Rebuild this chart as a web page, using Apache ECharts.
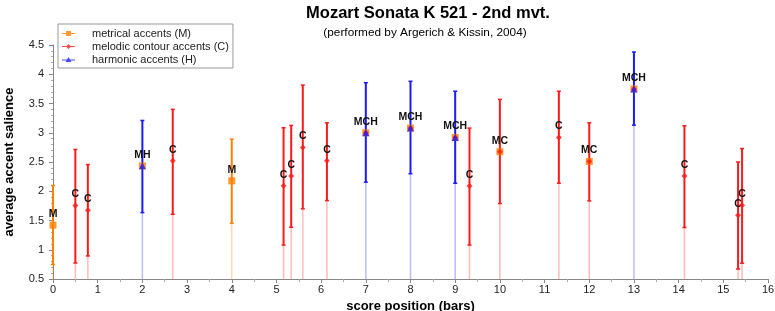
<!DOCTYPE html>
<html>
<head>
<meta charset="utf-8">
<script src="https://cdn.jsdelivr.net/npm/echarts@6/dist/echarts.min.js"></script>
<style>
  html, body { margin: 0; padding: 0; background: #fff; }
  #chart { width: 775px; height: 311px; }
</style>
</head>
<body>
<div id="chart"></div>
<script>
// score position (bars) of each accent
const positions = [0, 0.5, 0.78, 2, 2.68, 4, 5.16, 5.33, 5.59, 6.13, 7, 8, 9, 9.32, 10, 11.32, 12, 13, 14.13, 15.33, 15.42];
// average accent salience and its spread
const means = [1.42, 1.755, 1.675, 2.434, 2.52, 2.178, 2.092, 2.26, 2.75, 2.52, 3.0, 3.08, 2.92, 2.09, 2.675, 2.92, 2.51, 3.75, 2.26, 1.59, 1.76];
const lows  = [0.75, 0.774, 0.894, 1.635, 1.606, 1.452, 1.08, 1.385, 1.70, 1.84, 2.155, 2.30, 2.137, 1.08, 1.79, 2.137, 1.835, 3.13, 1.38, 0.67, 0.77];
const highs = [2.098, 2.714, 2.457, 3.21, 3.40, 2.89, 3.085, 3.125, 3.815, 3.17, 3.855, 3.88, 3.71, 3.08, 3.57, 3.71, 3.17, 4.38, 3.12, 2.5, 2.73];
// accent types present at each position
const accentLabels = ['M', 'C', 'C', 'MH', 'C', 'M', 'C', 'C', 'C', 'C', 'MCH', 'MCH', 'MCH', 'C', 'MC', 'C', 'MC', 'MCH', 'C', 'C', 'C'];

const seriesNames = ['metrical accents (M)', 'melodic contour accents (C)', 'harmonic accents (H)'];
const colors = ['#ff8000', '#ff1a1a', '#1a1aff'];
const FONT = '"Liberation Sans", Arial, sans-serif';

function pointsWith(letter) {
  let pts = [];
  positions.forEach((x, i) => {
    if (accentLabels[i].indexOf(letter) >= 0) pts.push([x, means[i]]);
  });
  return pts;
}

// error bar colour follows the "highest" accent type
let barData = positions.map((x, i) => {
  let lab = accentLabels[i];
  let t = lab.indexOf('H') >= 0 ? 2 : (lab.indexOf('C') >= 0 ? 1 : 0);
  return [x, lows[i], highs[i], means[i], t];
});

function renderBar(params, api) {
  let x = api.value(0);
  let base = api.coord([x, 0.5]);
  let lo = api.coord([x, api.value(1)]);
  let hi = api.coord([x, api.value(2)]);
  let m = api.coord([x, api.value(3)]);
  let color = colors[api.value(4)];
  let cap = 2;
  return {
    type: 'group',
    children: [
      { type: 'line', shape: { x1: base[0], y1: base[1], x2: lo[0], y2: lo[1] },
        style: { stroke: color, lineWidth: 1.5, opacity: 0.3 } },
      { type: 'line', shape: { x1: lo[0], y1: lo[1], x2: hi[0], y2: hi[1] },
        style: { stroke: color, lineWidth: 2 } },
      { type: 'line', shape: { x1: lo[0] - cap, y1: lo[1], x2: lo[0] + cap, y2: lo[1] },
        style: { stroke: color, lineWidth: 1.5 } },
      { type: 'line', shape: { x1: hi[0] - cap, y1: hi[1], x2: hi[0] + cap, y2: hi[1] },
        style: { stroke: color, lineWidth: 1.5 } },
      { type: 'text', x: m[0], y: m[1] - 11,
        style: { text: accentLabels[params.dataIndex], textAlign: 'center', textVerticalAlign: 'middle',
                 font: 'bold 10.5px ' + FONT, fill: '#111' } }
    ]
  };
}

const icons = [
  'path://M0,2h13v1h-13z M4,0h5v5h-5z',
  'path://M0,2h13v1h-13z M6.5,0L9,2.5L6.5,5L4,2.5z',
  'path://M0,2.5h13v1h-13z M6.5,0L9.5,5L3.5,5z'
];

let chart = echarts.init(document.getElementById('chart'));
chart.setOption({
  animation: false,
  textStyle: { fontFamily: FONT },
  graphic: [
    { type: 'text', x: 428, y: 13,
      style: { text: 'Mozart Sonata K 521 - 2nd mvt.', textAlign: 'center', textVerticalAlign: 'middle',
               font: 'bold 16.5px ' + FONT, fill: '#000' } },
    { type: 'text', x: 425, y: 33,
      style: { text: '(performed by Argerich & Kissin, 2004)', textAlign: 'center', textVerticalAlign: 'middle',
               font: '11.8px ' + FONT, fill: '#000' } }
  ],
  legend: {
    orient: 'vertical',
    left: 58,
    top: 24,
    padding: [3, 4, 2, 4],
    itemGap: 0,
    itemWidth: 13,
    itemHeight: 5,
    borderColor: '#999',
    borderWidth: 1,
    textStyle: { fontSize: 11, color: '#222', lineHeight: 13, padding: [0, 0, 0, 12] },
    data: seriesNames.map((n, i) => ({ name: n, icon: icons[i] }))
  },
  grid: { left: 53, right: 7, top: 45, bottom: 32, outerBoundsMode: 'none' },
  xAxis: {
    type: 'value',
    min: 0, max: 16, interval: 1,
    name: 'score position (bars)',
    nameLocation: 'middle',
    nameGap: 15,
    nameTextStyle: { fontWeight: 'bold', fontSize: 13, color: '#000' },
    axisLine: { lineStyle: { color: '#888' } },
    axisTick: { length: 4, lineStyle: { color: '#888' } },
    minorTick: { show: true, splitNumber: 2, length: 3, lineStyle: { color: '#aaa' } },
    axisLabel: { fontSize: 11, color: '#222', margin: 5 },
    splitLine: { show: false }
  },
  yAxis: {
    type: 'value',
    min: 0.5, max: 4.5, interval: 0.5,
    name: 'average accent salience',
    nameLocation: 'middle',
    nameGap: 37,
    nameTextStyle: { fontWeight: 'bold', fontSize: 13, color: '#000' },
    axisLine: { show: true, lineStyle: { color: '#888' } },
    axisTick: { show: true, length: 4, lineStyle: { color: '#888' } },
    minorTick: { show: true, splitNumber: 5, length: 2, lineStyle: { color: '#aaa' } },
    axisLabel: { fontSize: 11, color: '#222', margin: 9 },
    splitLine: { show: false }
  },
  series: [
    {
      type: 'custom',
      name: 'bars',
      renderItem: renderBar,
      data: barData,
      encode: { x: 0, y: [1, 2] },
      z: 1,
      silent: true
    },
    {
      type: 'scatter', name: seriesNames[0], symbol: 'rect', symbolSize: 7,
      itemStyle: { color: colors[0] }, data: pointsWith('M'), z: 2
    },
    {
      type: 'scatter', name: seriesNames[1], symbol: 'diamond', symbolSize: 6,
      itemStyle: { color: colors[1] }, data: pointsWith('C'), z: 3
    },
    {
      type: 'scatter', name: seriesNames[2], symbol: 'triangle', symbolSize: 7,
      itemStyle: { color: colors[2] }, data: pointsWith('H'), z: 4
    }
  ]
});
</script>
</body>
</html>
